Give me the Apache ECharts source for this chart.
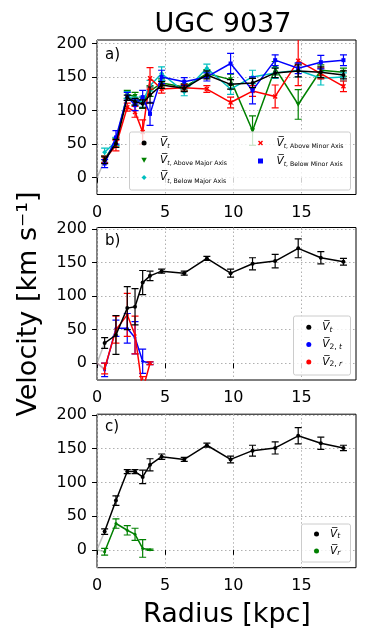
<!DOCTYPE html>
<html><head><meta charset="utf-8">
<script src="https://cdn.jsdelivr.net/npm/echarts@6/dist/echarts.min.js"></script>
<style>html,body{margin:0;padding:0;background:#fff}#c{width:375px;height:642px}</style>
</head><body><div id="c"></div>
<script>
// ---------- data ----------
const radius      = [0.56, 1.39, 2.22, 2.79, 3.35, 3.89, 4.74, 6.40, 8.06, 9.80, 11.41, 13.07, 14.76, 16.42, 18.08];
const radiusInner = [0.56, 1.39, 2.22, 2.79, 3.35, 3.89];
const xTicks = [0, 5, 10, 15];
const yTicks = [0, 50, 100, 150, 200];

// panel a
const vtA            = [26, 51, 119, 113, 110, 123, 138, 133, 153, 139, 141, 156, 159, 157, 153];
const vtAErr         = [5, 6, 4, 5, 6, 12, 5, 5, 6, 7, 7, 7, 9, 8, 6];
const aboveMajor     = [28, 53, 124, 121, 111, 129, 141, 135, 155, 146, 70, 163, 109, 160, 157];
const aboveMajorErr  = [5, 6, 6, 6, 8, 8, 6, 5, 6, 8, 22, 10, 22, 8, 6];
const belowMajor     = [38, 54, 123, 114, 113, 137, 155, 128, 163, 132, 150, 156, 160, 148, 150];
const belowMajorErr  = [6, 6, 5, 6, 8, 8, 10, 6, 6, 8, 10, 8, 10, 10, 6];
const aboveMinor     = [27, 48, 105, 98, 68, 148, 132, 134, 132, 112, 129, 121, 174, 155, 136];
const aboveMinorErr  = [5, 8, 6, 8, 18, 16, 6, 5, 5, 8, 8, 17, 37, 8, 8];
const belowMinor     = [21, 60, 121, 108, 120, 95, 150, 143, 150, 170, 130, 175, 163, 172, 175];
const belowMinorErr  = [6, 10, 6, 8, 10, 17, 10, 6, 6, 15, 20, 8, 8, 10, 8];

// panel b
const vtB    = [30, 42, 82, 84, 120, 130, 137, 134, 156, 134, 148, 152, 171, 157, 151];
const vtBErr = [8, 29, 32, 27, 18, 7, 3, 3, 3, 6, 9, 10, 14, 9, 5];
const v2t    = [-10, 52, 52, 38, 3, 0];
const v2tErr = [10, 12, 22, 24, 18, 2];
const v2r    = [-8, 50, 72, 42, -40, 0];
const v2rErr = [8, 20, 32, 28, 20, 2];

// panel c
const vtC    = [27, 73, 116, 116, 108, 126, 138, 134, 155, 134, 147, 151, 169, 158, 151];
const vtCErr = [4, 7, 3, 3, 10, 9, 4, 3, 3, 5, 8, 9, 12, 9, 4];
const vr     = [-3, 39, 29, 23, 2, 0];
const vrErr  = [5, 7, 7, 9, 13, 1];

// ---------- styling ----------
const FONT = 'DejaVu Sans';
const C = {k:'#000000', g:'#008000', c:'#00bfbf', r:'#ff0000', b:'#0000ff'};
const triDown = 'path://M0,0 L10,0 L5,9 Z';
const xMark = 'path://M0,2 L2,0 L5,3 L8,0 L10,2 L7,5 L10,8 L8,10 L5,7 L2,10 L0,8 L3,5 Z';
const square = 'path://M0,0 L10,0 L10,10 L0,10 Z';
const diamond = 'path://M5,0 L10,5 L5,10 L0,5 Z';

const grids = [
  {left:97, right:19, top:40, height:154.5},
  {left:97, right:19, top:227.5, height:152.5},
  {left:97, right:19, top:414.2, height:153.5}
].map(g => Object.assign(g, {show:true, borderColor:'#000', borderWidth:1, backgroundColor:'transparent'}));
const yRanges = [[-25, 205], [-25, 202], [-26.5, 201]];

const xAxes = [0,1,2].map(i => ({
  type:'value', gridIndex:i, min:0, max:19,
  axisLine:{show:false},
  axisTick:{show:true, customValues:xTicks, length:5, lineStyle:{color:'#000', width:1}},
  axisLabel:{customValues:xTicks, fontSize:16, color:'#000', fontFamily:FONT, margin:10},
  splitLine:{show:true, lineStyle:{color:'#b0b0b0', width:1, type:[1.5,2.5]}}
}));
const yAxes = [0,1,2].map(i => ({
  type:'value', gridIndex:i, min:yRanges[i][0], max:yRanges[i][1],
  axisLine:{show:false},
  axisTick:{show:true, customValues:yTicks, length:5, lineStyle:{color:'#000', width:1}},
  axisLabel:{customValues:yTicks, fontSize:16, color:'#000', fontFamily:FONT, margin:10},
  splitLine:{show:true, lineStyle:{color:'#b0b0b0', width:1, type:[1.5,2.5]}}
}));

function lineS(gi, name, xs, ys, color, symbol, size, z) {
  return {name, type:'line', xAxisIndex:gi, yAxisIndex:gi,
    data: xs.map((x,i)=>[x, ys[i]]), symbol, symbolSize:size, showAllSymbol:true,
    itemStyle:{color}, lineStyle:{color, width:1.5}, clip:true, z, animation:false, silent:true};
}
function errS(gi, xs, ys, es, color, z) {
  return {type:'custom', xAxisIndex:gi, yAxisIndex:gi, z, clip:true, animation:false, silent:true,
    data: xs.map((x,i)=>[x, ys[i]-es[i], ys[i]+es[i]]),
    renderItem:(p, api) => {
      const lo = api.coord([api.value(0), api.value(1)]);
      const hi = api.coord([api.value(0), api.value(2)]);
      const w = 3.5, st = {stroke:color, lineWidth:1.2};
      return {type:'group', children:[
        {type:'line', shape:{x1:lo[0], y1:lo[1], x2:hi[0], y2:hi[1]}, style:st},
        {type:'line', shape:{x1:lo[0]-w, y1:lo[1], x2:lo[0]+w, y2:lo[1]}, style:st},
        {type:'line', shape:{x1:hi[0]-w, y1:hi[1], x2:hi[0]+w, y2:hi[1]}, style:st}
      ]};
    }};
}
function originS(gi, xs, ys, color) {
  return {type:'line', xAxisIndex:gi, yAxisIndex:gi, data:[[0,0],[xs[0], ys[0]]], symbol:'none',
    lineStyle:{color, width:1.5, opacity:0.5}, z:1, animation:false, silent:true};
}

const series = [
  // panel a
  originS(0, radius, vtA, '#808080'),
  errS(0, radius, aboveMajor, aboveMajorErr, C.g, 2), lineS(0, 'aMajA', radius, aboveMajor, C.g, triDown, 5, 2),
  errS(0, radius, belowMajor, belowMajorErr, C.c, 3), lineS(0, 'aMajB', radius, belowMajor, C.c, diamond, 5, 3),
  errS(0, radius, aboveMinor, aboveMinorErr, C.r, 4), lineS(0, 'aMinA', radius, aboveMinor, C.r, xMark, 5, 4),
  errS(0, radius, belowMinor, belowMinorErr, C.b, 5), lineS(0, 'aMinB', radius, belowMinor, C.b, square, 4, 5),
  errS(0, radius, vtA, vtAErr, C.k, 6), lineS(0, 'vtA', radius, vtA, C.k, 'circle', 4, 6),
  // panel b
  originS(1, radius, vtB, '#808080'), originS(1, radiusInner, v2t, '#8080c0'), originS(1, radiusInner, v2r, '#c08080'),
  errS(1, radiusInner, v2t, v2tErr, C.b, 2), lineS(1, 'v2t', radiusInner, v2t, C.b, 'circle', 3, 2),
  errS(1, radiusInner, v2r, v2rErr, C.r, 3), lineS(1, 'v2r', radiusInner, v2r, C.r, 'circle', 3, 3),
  errS(1, radius, vtB, vtBErr, C.k, 4), lineS(1, 'vtB', radius, vtB, C.k, 'circle', 4, 4),
  // panel c
  originS(2, radius, vtC, '#808080'), originS(2, radiusInner, vr, '#80a080'),
  errS(2, radiusInner, vr, vrErr, C.g, 2), lineS(2, 'vr', radiusInner, vr, C.g, 'circle', 3, 2),
  errS(2, radius, vtC, vtCErr, C.k, 4), lineS(2, 'vtC', radius, vtC, C.k, 'circle', 4, 4)
];

const VB = '{v|V\u0305}';
const legendText = {
  vtA: VB+'{si|t}', aMajA: VB+'{si|t}{s|, Above Major Axis}', aMajB: VB+'{si|t}{s|, Below Major Axis}',
  aMinA: VB+'{si|t}{s|, Above Minor Axis}', aMinB: VB+'{si|t}{s|, Below Minor Axis}',
  vtB: VB+'{si|t}', v2t: VB+'{s|2, }{si|t}', v2r: VB+'{s|2, }{si|r}',
  vtC: VB+'{si|t}', vr: VB+'{si|r}'
};
// left = marker centre - 2 (the legend box is placed by its drawn content)
function legend(names, icons, left, top, itemWidth, gap, iconSize, subSize) {
  return {show:true, orient:'vertical', left, top, padding:0, itemGap:gap, itemWidth, itemHeight:iconSize,
    selectedMode:false, z:12, symbolKeepAspect:true,
    data: names.map((n,i)=>({name:n, icon:icons[i]})),
    formatter: n => legendText[n],
    textStyle:{color:'#000', fontFamily:FONT, rich:{
      v:{fontSize:10.5, fontStyle:'italic', fontFamily:FONT, lineHeight:13, color:'#000'},
      s:{fontSize:subSize, fontStyle:'normal', fontFamily:FONT, verticalAlign:'bottom', color:'#000'},
      si:{fontSize:subSize, fontStyle:'italic', fontFamily:FONT, verticalAlign:'bottom', color:'#000'}
    }}};
}

const legends = [
  legend(['vtA','aMajA','aMajB'], ['circle', triDown, diamond], 141.3, 137.5, 22, 5.3, 5, 6.2),
  legend(['aMinA','aMinB'], [xMark, square], 258, 137.5, 22, 6, 5, 6.2),
  legend(['vtB','v2t','v2r'], ['circle','circle','circle'], 306.3, 321.8, 17, 5.3, 5, 7.5),
  legend(['vtC','vr'], ['circle','circle'], 314, 528.5, 17, 5, 5, 7.5)
];

const boxStyle = {fill:'rgba(255,255,255,0.8)', stroke:'#cccccc', lineWidth:1};
const graphic = [
  {type:'rect', z:10, shape:{x:129.5, y:132, width:221, height:58, r:2}, style:boxStyle},
  {type:'rect', z:10, shape:{x:293.5, y:316, width:57, height:59, r:2}, style:boxStyle},
  {type:'rect', z:10, shape:{x:301.5, y:524, width:49, height:38, r:2}, style:boxStyle},
  {type:'text', z:12, x:105, y:55, style:{text:'a)', fontSize:15, fontFamily:FONT, fill:'#000', textVerticalAlign:'middle'}},
  {type:'text', z:12, x:105, y:241, style:{text:'b)', fontSize:15, fontFamily:FONT, fill:'#000', textVerticalAlign:'middle'}},
  {type:'text', z:12, x:105, y:427, style:{text:'c)', fontSize:15, fontFamily:FONT, fill:'#000', textVerticalAlign:'middle'}},
  {type:'text', z:12, x:223, y:25, style:{text:'UGC 9037', fontSize:27, fontFamily:FONT, fill:'#000', textAlign:'center', textVerticalAlign:'middle'}},
  {type:'text', z:12, x:227, y:615, style:{text:'Radius [kpc]', fontSize:27, fontFamily:FONT, fill:'#000', textAlign:'center', textVerticalAlign:'middle'}},
  {type:'text', z:12, x:28.6, y:304, rotation:Math.PI/2, style:{text:'Velocity [km s\u207B\u00B9]', fontSize:27, fontFamily:FONT, fill:'#000', textAlign:'center', textVerticalAlign:'middle'}}
];

const chart = echarts.init(document.getElementById('c'), null, {renderer:'canvas'});
chart.setOption({
  animation:false, backgroundColor:'#fff',
  textStyle:{fontFamily:FONT},
  grid:grids, xAxis:xAxes, yAxis:yAxes, series, legend:legends, graphic
});
</script></body></html>
